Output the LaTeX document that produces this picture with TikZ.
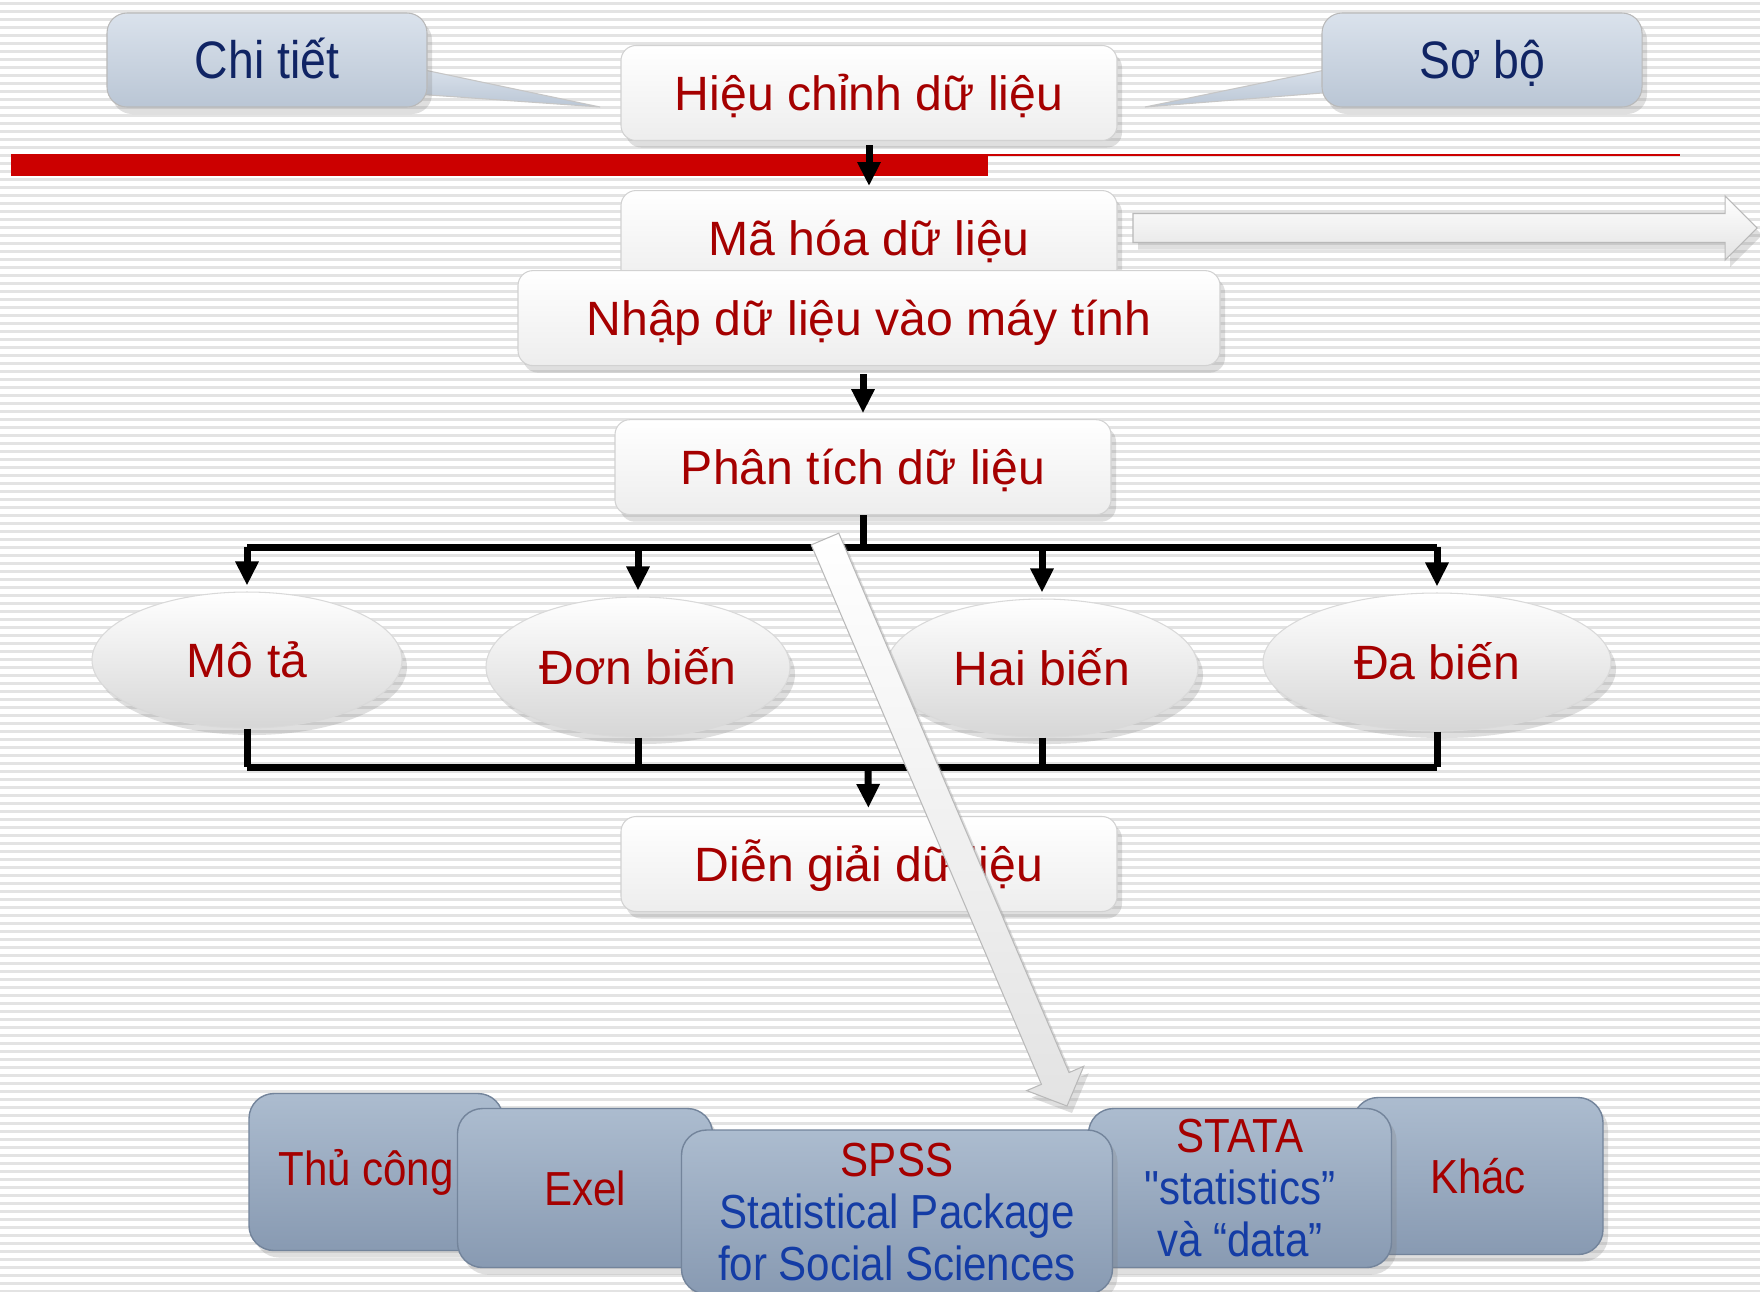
\documentclass[tikz,border=0pt]{standalone}
\usepackage{fontspec}
\setmainfont{Liberation Sans}
\newfontfamily\narrowfont[FakeStretch=0.88]{Liberation Sans}
\usetikzlibrary{arrows.meta,positioning,calc,shapes.geometric,shadows}

\definecolor{txtred}{RGB}{165,0,0}
\definecolor{txtnavy}{RGB}{16,36,100}
\definecolor{txtblue}{RGB}{20,60,165}
\definecolor{barred}{RGB}{204,0,0}
\definecolor{tooltop}{RGB}{172,188,207}
\definecolor{toolbot}{RGB}{136,154,178}
\definecolor{tooledge}{RGB}{115,132,155}
\definecolor{calltop}{RGB}{218,226,236}
\definecolor{callbot}{RGB}{186,198,213}

\tikzset{
  softshadow/.style={drop shadow={shadow xshift=0.5mm,shadow yshift=-0.7mm,opacity=0.25}},
  stepbox/.style={
    rounded corners=1.5mm,
    top color=white, bottom color=gray!14,
    draw=gray!35, line width=0.3pt, softshadow,
    minimum width=49.6mm, minimum height=9.5mm,
    inner sep=0pt, text height=3.9mm, text depth=0.4mm,
    text=txtred, font=\fontsize{13.7pt}{17pt}\selectfont
  },
  kindnode/.style={
    ellipse, top color=white, bottom color=gray!32,
    draw=gray!30, line width=0.3pt, softshadow,
    inner sep=0pt, text height=3.9mm, text depth=0.4mm,
    text=txtred, font=\fontsize{13.7pt}{17pt}\selectfont
  },
  callbox/.style={
    rounded corners=2mm,
    top color=calltop, bottom color=callbot,
    draw=gray!55, line width=0.3pt, softshadow,
    minimum width=32mm, minimum height=9.4mm,
    inner sep=0pt, text height=4.1mm, text depth=0.4mm,
    text=txtnavy, font=\narrowfont\fontsize{15pt}{18pt}\selectfont
  },
  calltail/.style={top color=calltop, bottom color=callbot, draw=gray!45, line width=0.3pt},
  toolbox/.style={
    rounded corners=2.5mm,
    top color=tooltop, bottom color=toolbot,
    draw=tooledge, line width=0.4pt, softshadow,
    inner sep=0pt, align=center,
    text=txtred, font=\narrowfont\fontsize{13.6pt}{14.8pt}\selectfont
  },
  flowline/.style={line width=0.7mm},
  flowarrow/.style={flowline,-{Triangle[width=2.2mm,length=2.4mm]}},
  fatarrow/.style={top color=white, bottom color=gray!22, draw=gray!55, line width=0.3pt, softshadow},
  stripe/.style={gray!22, line width=0.3mm}
}

% wide hollow-looking arrow: tail, tip, shaft half width, head half width, head length
\newcommand{\fatarrow}[5]{%
  \coordinate (#2-base) at ($(#2)!#5!(#1)$);
  \path[fatarrow] ($(#1)!#3!90:(#2)$) -- ($(#2-base)!#3!90:(#2)$)
    -- ($(#2-base)!#4!90:(#2)$) -- (#2) -- ($(#2-base)!#4!-90:(#2)$)
    -- ($(#2-base)!#3!-90:(#2)$) -- ($(#1)!#3!-90:(#2)$) -- cycle;}

\begin{document}
\begin{tikzpicture}[x=0.1mm,y=-0.1mm]
  \useasboundingbox (0,0) rectangle (1760,1291);
  \fill[white] (0,0) rectangle (1760,1291);
  \foreach \yy in {3,11,...,1291}
    \draw[stripe] (0,\yy) -- (1760,\yy);

  % red rule
  \fill[barred] (11,154) rectangle (988,176);
  \draw[barred,line width=0.25mm] (988,155) -- (1680,155);

  % callouts
  \path[calltail] (415,68) -- (600,107) -- (415,94) -- cycle;
  \path[calltail] (1335,68) -- (1145,107) -- (1335,92) -- cycle;
  \node[callbox] (chitiet) at (267,60) {Chi tiết};
  \node[callbox] (sobo) at (1482,60) {Sơ bộ};

  % main column
  \node[stepbox] (hieuchinh) at (869,93) {Hiệu chỉnh dữ liệu};
  \node[stepbox,below=4.9mm of hieuchinh] (mahoa) {Mã hóa dữ liệu};
  \node[stepbox,minimum width=70.2mm,below=-1.6mm of mahoa] (nhap) {Nhập dữ liệu vào máy tính};
  \node[stepbox,below=5.3mm of nhap,xshift=-0.6mm] (ptich) {Phân tích dữ liệu};
  \node[stepbox] (diengiai) at (869,864) {Diễn giải dữ liệu};

  \draw[flowarrow,shorten <=0.4mm,shorten >=0.4mm] (hieuchinh) -- (mahoa);
  \draw[flowarrow,shorten <=0.8mm,shorten >=0.6mm] (nhap.south -| ptich) -- (ptich);

  % kinds of analysis
  \node[kindnode,minimum width=31mm,minimum height=13.6mm] (mota) at (247,660) {Mô tả};
  \node[kindnode,minimum width=30.4mm,minimum height=14mm] (donbien) at (638,667) {Đơn biến};
  \node[kindnode,minimum width=31.2mm,minimum height=13.8mm] (haibien) at (1042,668) {Hai biến};
  \node[kindnode,minimum width=34.8mm,minimum height=13.8mm] (dabien) at (1437,662) {Đa biến};

  \coordinate (splitA) at ($(ptich.south)+(0,32)$);
  \coordinate (joinB) at (868,767);
  \draw[flowline] (ptich) -- (splitA);
  \draw[flowline] (splitA -| mota) -- (splitA -| dabien);
  \foreach \k in {mota,donbien,haibien,dabien}{
    \draw[flowarrow,shorten >=0.6mm] (splitA -| \k) -- (\k);
    \draw[flowline] (\k) -- (\k |- joinB);
  }
  \draw[flowline] (joinB -| mota) -- (joinB -| dabien);
  \draw[flowarrow,shorten >=0.8mm] (joinB) -- (diengiai);

  % tools
  \node[toolbox,minimum width=25.4mm,minimum height=15.7mm] (thucong) at (376,1172) {Thủ công\hspace*{2mm}};
  \node[toolbox,minimum width=25.5mm,minimum height=15.9mm] (exel) at (585,1188) {Exel};
  \node[toolbox,minimum width=25mm,minimum height=15.7mm] (khac) at (1478,1176) {Khác};
  \node[toolbox,minimum width=30.3mm,minimum height=15.9mm] (stata) at (1240,1188)
    {STATA\\\textcolor{txtblue}{"statistics”}\\\textcolor{txtblue}{và “data”}};
  \node[toolbox,minimum width=43.1mm,minimum height=16.4mm] (spss) at (897,1212)
    {SPSS\\\textcolor{txtblue}{Statistical Package}\\\textcolor{txtblue}{for Social Sciences}};

  % big arrows
  \coordinate (codetail) at (1133,228);
  \coordinate (codetip) at (1757,228);
  \fatarrow{codetail}{codetip}{1.45mm}{3.2mm}{3.2mm}
  \coordinate (tooltail) at (825,539);
  \coordinate (tooltip) at (1067,1106);
  \fatarrow{tooltail}{tooltip}{1.5mm}{3.1mm}{3mm}
\end{tikzpicture}
\end{document}
